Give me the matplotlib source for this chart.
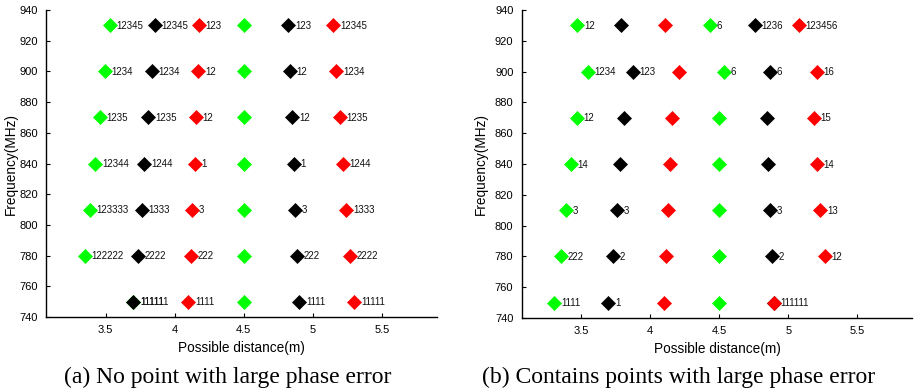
import matplotlib
matplotlib.use("Agg")
import matplotlib.pyplot as plt

plt.rcParams['font.family'] = ['Liberation Sans', 'DejaVu Sans']

freqs = [930, 900, 870, 840, 810, 780, 750]

# Panel (a): No point with large phase error
a_green1_x = [3.53, 3.495, 3.46, 3.425, 3.384, 3.347, 3.70]
a_green1_lbl = ['12345', '1234', '1235', '12344', '123333', '122222', '11111']
a_black1_x = [3.854, 3.835, 3.81, 3.78, 3.762, 3.733, 3.70]
a_black1_lbl = ['12345', '1234', '1235', '1244', '1333', '2222', '111111']
a_red1_x = [4.176, 4.17, 4.155, 4.145, 4.128, 4.116, 4.099]
a_red1_lbl = ['123', '12', '12', '1', '3', '222', '1111']
a_green2_x = [4.5, 4.5, 4.5, 4.5, 4.5, 4.5, 4.5]
a_green2_lbl = ['', '', '', '', '', '', '']
a_black2_x = [4.824, 4.836, 4.853, 4.862, 4.872, 4.884, 4.904]
a_black2_lbl = ['123', '12', '12', '1', '3', '222', '1111']
a_red2_x = [5.15, 5.17, 5.195, 5.216, 5.243, 5.272, 5.30]
a_red2_lbl = ['12345', '1234', '1235', '1244', '1333', '2222', '11111']

# Panel (b): Contains points with large phase error
b_green1_x = [3.471, 3.546, 3.467, 3.426, 3.39, 3.351, 3.303]
b_green1_lbl = ['12', '1234', '12', '14', '3', '222', '1111']
b_black1_x = [3.791, 3.875, 3.81, 3.781, 3.76, 3.729, 3.697]
b_black1_lbl = ['', '123', '', '', '3', '2', '1']
b_red1_x = [4.11, 4.207, 4.154, 4.142, 4.127, 4.113, 4.096]
b_red1_lbl = ['', '', '', '', '', '', '']
b_green2_x = [4.433, 4.536, 4.5, 4.5, 4.5, 4.5, 4.5]
b_green2_lbl = ['6', '6', '', '', '', '', '']
b_black2_x = [4.76, 4.868, 4.844, 4.855, 4.865, 4.88, 4.897]
b_black2_lbl = ['1236', '6', '', '', '3', '2', '']
b_red2_x = [5.077, 5.207, 5.185, 5.207, 5.233, 5.264, 4.897]
b_red2_lbl = ['123456', '16', '15', '14', '13', '12', '111111']

x_ticks = [3.5, 4.0, 4.5, 5.0, 5.5]
x_ticklabels = ['3.5', '4', '4.5', '5', '5.5']
y_ticks = [740, 760, 780, 800, 820, 840, 860, 880, 900, 920, 940]

GREEN = '#00ff00'
RED = '#ff0000'
BLACK = '#000000'

fig = plt.figure(figsize=(9.15, 3.92), dpi=100)

panels = [
    ([0.0503, 0.1913, 0.4273, 0.7832],
     [(a_green1_x, a_green1_lbl, GREEN), (a_black1_x, a_black1_lbl, BLACK),
      (a_red1_x, a_red1_lbl, RED), (a_green2_x, a_green2_lbl, GREEN),
      (a_black2_x, a_black2_lbl, BLACK), (a_red2_x, a_red2_lbl, RED)],
     '(a) No point with large phase error', 0.249, -0.072),
    ([0.5702, 0.1890, 0.4269, 0.7855],
     [(b_green1_x, b_green1_lbl, GREEN), (b_black1_x, b_black1_lbl, BLACK),
      (b_red1_x, b_red1_lbl, RED), (b_green2_x, b_green2_lbl, GREEN),
      (b_black2_x, b_black2_lbl, BLACK), (b_red2_x, b_red2_lbl, RED)],
     '(b) Contains points with large phase error', 0.742, -0.086),
]

for rect, series, caption, cx, ylx in panels:
    ax = fig.add_axes(rect)
    z = 3
    for xs, lbls, col in series:
        ax.plot(xs, freqs, linestyle='none', marker='D', markersize=7.5,
                markerfacecolor=col, markeredgecolor=col, markeredgewidth=0.5,
                zorder=z, clip_on=False)
        for x, y, s in zip(xs, freqs, lbls):
            if s:
                ax.annotate(s, (x, y), xytext=(4.8, -0.5), textcoords='offset points',
                            ha='left', va='center', fontsize=7, color='#111111',
                            zorder=z)
        z += 1
    ax.set_xlim(3.068, 5.9)
    ax.set_ylim(740, 940)
    ax.set_xticks(x_ticks)
    ax.set_xticklabels(x_ticklabels)
    ax.set_yticks(y_ticks)
    ax.tick_params(direction='in', length=3, width=0.8, labelsize=8, pad=6)
    for sp in ['top', 'right']:
        ax.spines[sp].set_visible(False)
    for sp in ['left', 'bottom']:
        ax.spines[sp].set_linewidth(1.0)
    ax.set_xlabel('Possible distance(m)', fontsize=9.8, labelpad=4)
    ax.set_ylabel('Frequency(MHz)', fontsize=9.8)
    ax.yaxis.set_label_coords(ylx, 0.5)
    fig.text(cx, 0.023, caption, ha='center', va='baseline',
             family=['Liberation Serif', 'DejaVu Serif'], fontsize=17)

fig.savefig('out.png', dpi=100)
